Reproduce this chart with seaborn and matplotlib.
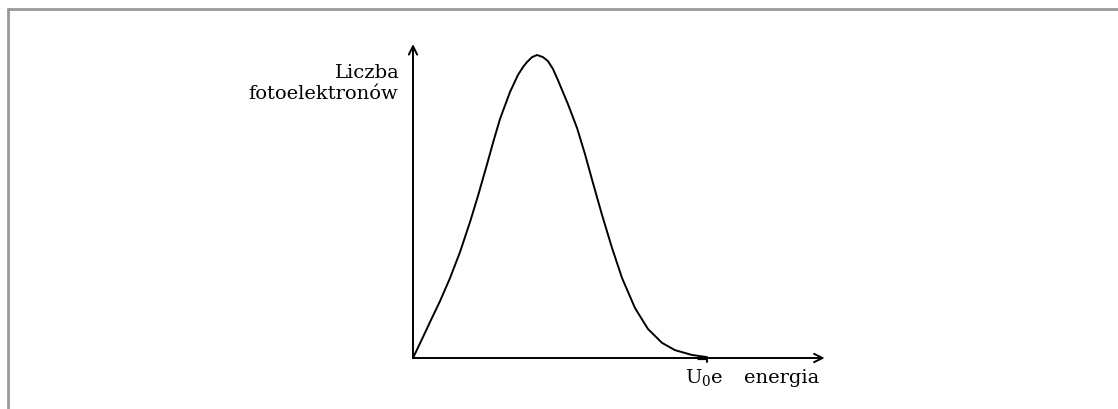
import matplotlib
matplotlib.use("Agg")
import matplotlib.pyplot as plt
from matplotlib.lines import Line2D
import seaborn as sns
import pandas as pd

# Energy of photoelectrons (in units of U0*e) and relative electron count
energy = [0.000, 0.031, 0.058, 0.092, 0.126, 0.160, 0.194, 0.221, 0.252, 0.272,
          0.296, 0.330, 0.357, 0.374, 0.388, 0.405, 0.422, 0.442, 0.459, 0.476,
          0.493, 0.527, 0.558, 0.585, 0.612, 0.643, 0.677, 0.711, 0.755, 0.799,
          0.847, 0.891, 0.949, 1.000]
count = [0.000, 0.063, 0.119, 0.188, 0.264, 0.350, 0.449, 0.535, 0.640, 0.710,
         0.789, 0.878, 0.934, 0.960, 0.977, 0.993, 1.000, 0.993, 0.980, 0.954,
         0.917, 0.838, 0.759, 0.673, 0.578, 0.472, 0.363, 0.264, 0.165, 0.096,
         0.050, 0.026, 0.010, 0.003]

U0E = 1.0            # maximum kinetic energy, U0*e
X_AXIS_END = 1.40    # length of the energy axis
Y_AXIS_END = 1.036   # length of the count axis

y_label = ["Liczba", "fotoelektronów"]
x_label = "energia"
cutoff_label = r"U$_0$e"

df = pd.DataFrame({"energia": energy, "liczba": count})

sns.set_theme(style="white")
plt.rcParams["font.family"] = ["DejaVu Serif"]
plt.rcParams["mathtext.fontset"] = "dejavuserif"

W, H = 1118, 410
fig = plt.figure(figsize=(W / 100, H / 100), dpi=100)
fig.patch.set_facecolor("white")

# origin of the diagram in pixels and scale (pixels per unit)
ox, oy = 413, 359
sx, sy = 294, 303
ax = fig.add_axes([0, 0, 1, 1])
ax.set_xlim(-ox / sx, (W - ox) / sx)
ax.set_ylim(-(H - oy) / sy, oy / sy)
ax.set_axis_off()

# grey frame along top and left edges
fig.add_artist(Line2D([8 / W, 1.0], [1 - 10 / H, 1 - 10 / H], color="#999999",
                      lw=2.0, transform=fig.transFigure))
fig.add_artist(Line2D([8 / W, 8 / W], [0.0, 1 - 10 / H], color="#999999",
                      lw=2.0, transform=fig.transFigure))

# axes arrows
arrow = dict(arrowstyle="->", color="black", lw=1.4,
             shrinkA=0, shrinkB=0, mutation_scale=15)
ax.annotate("", xy=(X_AXIS_END, 0), xytext=(0, 0), arrowprops=arrow)
ax.annotate("", xy=(0, Y_AXIS_END), xytext=(0, 0), arrowprops=arrow)

# distribution curve
sns.lineplot(data=df, x="energia", y="liczba", ax=ax, color="black",
             lw=1.4, sort=False, estimator=None, legend=False,
             solid_joinstyle="round")

# small tick at the cut-off energy
ax.plot([U0E - 0.035, U0E], [0, 0], color="black", lw=2.3, solid_capstyle="butt")
ax.plot([U0E, U0E], [0, -0.014], color="black", lw=1.4)

# labels
txt = dict(fontsize=14, color="black", va="baseline")
ax.text(-0.045, 0.927, y_label[0], ha="right", **txt)
ax.text(-0.050, 0.858, y_label[1], ha="right", **txt)
ax.text(U0E - 0.008, -0.079, cutoff_label, ha="center", **txt)
ax.text(1.125, -0.079, x_label, ha="left", **txt)

fig.savefig("out.png", dpi=100, facecolor="white")
